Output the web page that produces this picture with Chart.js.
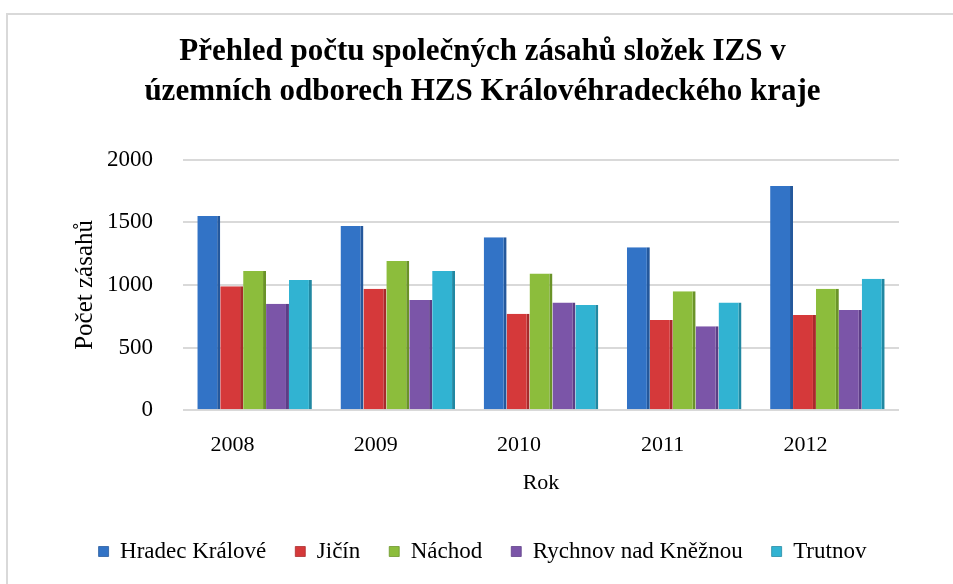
<!DOCTYPE html>
<html>
<head>
<meta charset="utf-8">
<script src="https://cdn.jsdelivr.net/npm/chart.js@4/dist/chart.umd.min.js"></script>
<style>
  html, body { margin: 0; padding: 0; background: #ffffff; overflow: hidden; }
  #frame { position: absolute; left: 6px; top: 13px; width: 1000px; height: 700px; border-left: 2px solid #d9d9d9; border-top: 2px solid #d9d9d9; }
  #wrap { position: absolute; left: 0; top: 0; width: 953px; height: 584px; }
</style>
</head>
<body>
<div id="frame"></div>
<div id="wrap"><canvas id="c" width="953" height="584"></canvas></div>
<script>
const categories = ["2008", "2009", "2010", "2011", "2012"];
const seriesNames = ["Hradec Králové", "Jičín", "Náchod", "Rychnov nad Kněžnou", "Trutnov"];
const hradecKralove = [1550, 1470, 1380, 1300, 1790];
const jicin = [990, 970, 770, 720, 760];
const nachod = [1110, 1190, 1090, 950, 970];
const rychnov = [850, 880, 860, 670, 800];
const trutnov = [1040, 1110, 840, 860, 1050];
const yTicks = [0, 500, 1000, 1500, 2000];

const colors = ["#3273c6", "#d5393a", "#8cbd3c", "#7b55a8", "#31b3d2"];
const borders = ["#24589c", "#a82a2b", "#6a9328", "#5c3d85", "#2188a2"];
const values = [hradecKralove, jicin, nachod, rychnov, trutnov];

const serif = "'Liberation Serif', 'Times New Roman', serif";
Chart.defaults.font.family = serif;
Chart.defaults.color = '#000000';

new Chart(document.getElementById('c'), {
  type: 'bar',
  data: {
    labels: categories,
    datasets: seriesNames.map((n, i) => ({
      label: n,
      data: values[i],
      backgroundColor: colors[i],
      borderColor: borders[i],
      borderWidth: { top: 0, left: 0, bottom: 0, right: 3 },
      borderSkipped: false
    }))
  },
  options: {
    responsive: false,
    animation: false,
    devicePixelRatio: 1,
    layout: { padding: { left: 66, right: 54, top: 14, bottom: 11 } },
    datasets: { bar: { categoryPercentage: 0.8, barPercentage: 1.0 } },
    plugins: {
      title: {
        display: true,
        text: ["Přehled počtu společných zásahů složek IZS v", "územních odborech HZS Královéhradeckého kraje"],
        font: { family: serif, size: 31, weight: 'bold', lineHeight: 1.3 },
        color: '#000000',
        padding: { top: 18, bottom: 47 }
      },
      legend: {
        position: 'bottom',
        labels: {
          font: { family: serif, size: 23 },
          color: '#000000',
          boxWidth: 10,
          boxHeight: 10,
          padding: 29
        }
      },
      tooltip: { enabled: false }
    },
    scales: {
      x: {
        grid: { display: false },
        border: { display: false },
        ticks: { font: { family: serif, size: 22 }, color: '#000000', padding: 14, align: 'end' },
        title: { display: true, text: 'Rok', font: { family: serif, size: 22 }, color: '#000000', padding: { top: -3, bottom: 15 } }
      },
      y: {
        min: 0, max: 2000,
        afterBuildTicks: (s) => { s.ticks = yTicks.map(v => ({ value: v })); },
        grid: { color: '#d9d9d9', lineWidth: 2, drawTicks: true, tickLength: 26, tickColor: 'rgba(0,0,0,0)' },
        border: { display: false },
        ticks: { font: { family: serif, size: 23 }, color: '#000000', padding: 4, callback: (v) => String(v) },
        title: { display: true, text: 'Počet zásahů', font: { family: serif, size: 25 }, color: '#000000', padding: { top: 4, bottom: 3 } }
      }
    }
  }
});
</script>
</body>
</html>
